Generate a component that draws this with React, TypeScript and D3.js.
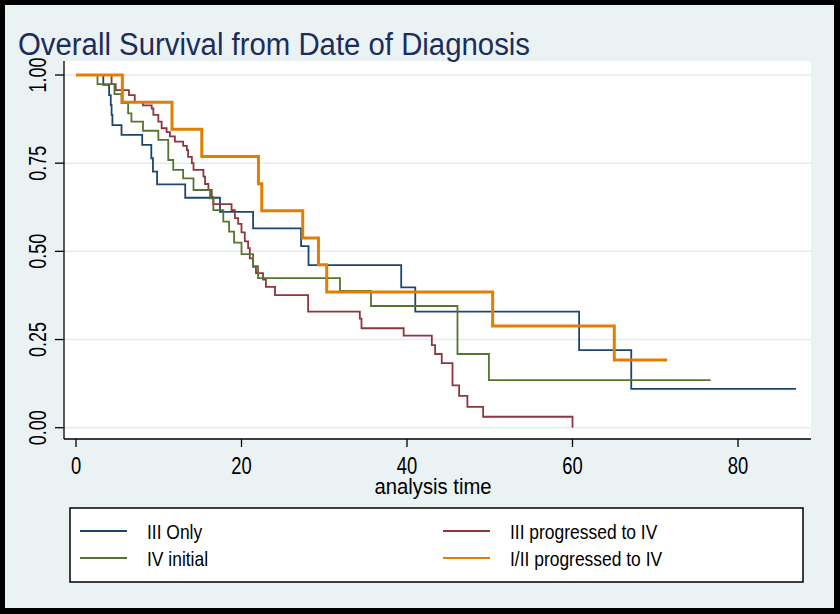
import React, { useRef, useEffect } from 'react';
import * as d3 from 'd3';

// Kaplan-Meier steps (time in months, survival)
const blueTimes = [3.3, 4.0, 4.2, 4.3, 4.4, 5.5, 8.0, 9.1, 9.3, 9.8, 13.2, 17.4, 21.4, 27.2, 28.1, 39.3, 41.0, 60.8, 67.1];
const blueSurv = [0.972, 0.943, 0.915, 0.887, 0.858, 0.83, 0.802, 0.764, 0.726, 0.69, 0.652, 0.612, 0.565, 0.515, 0.461, 0.398, 0.329, 0.22, 0.11];
const blueEnd = 87.0;

const redTimes = [4.3, 4.8, 6.4, 7.1, 8.1, 9.15, 9.35, 9.95, 10.35, 10.95, 11.35, 11.95, 12.95, 13.4, 13.55, 14.0, 14.2, 15.4, 15.6, 16.0, 16.4, 16.6, 18.8, 19.2, 19.6, 20.0, 20.4, 20.8, 21.0, 21.4, 21.75, 22.6, 22.95, 24.05, 28.05, 34.3, 34.5, 39.6, 43.0, 43.4, 44.2, 45.5, 46.3, 47.3, 49.2, 60.0];
const redSurv = [0.974, 0.957, 0.943, 0.924, 0.914, 0.905, 0.887, 0.868, 0.849, 0.838, 0.826, 0.811, 0.799, 0.787, 0.768, 0.75, 0.731, 0.712, 0.691, 0.674, 0.654, 0.634, 0.617, 0.594, 0.578, 0.554, 0.528, 0.509, 0.48, 0.456, 0.438, 0.42, 0.399, 0.376, 0.329, 0.309, 0.282, 0.261, 0.234, 0.209, 0.183, 0.12, 0.09, 0.059, 0.031, 0.0];
const redEnd = 60.0;

const greenTimes = [2.6, 4.65, 5.5, 6.3, 6.7, 8.1, 9.95, 11.15, 11.75, 12.95, 14.2, 16.2, 16.6, 17.8, 18.5, 19.1, 20.0, 21.4, 22.0, 31.9, 35.65, 46.1, 49.9];
const greenSurv = [0.974, 0.946, 0.92, 0.891, 0.868, 0.842, 0.816, 0.759, 0.731, 0.707, 0.674, 0.65, 0.617, 0.584, 0.556, 0.525, 0.492, 0.458, 0.424, 0.388, 0.345, 0.209, 0.135];
const greenEnd = 76.7;

const orangeTimes = [5.6, 11.6, 15.2, 22.05, 22.45, 27.4, 29.3, 30.3, 50.35, 65.05];
const orangeSurv = [0.923, 0.846, 0.769, 0.692, 0.615, 0.538, 0.462, 0.385, 0.288, 0.192];
const orangeEnd = 71.45;

const xTicks = [0, 20, 40, 60, 80];
const yTicks = [0, 0.25, 0.5, 0.75, 1];

const seriesNames = ['III Only', 'III progressed to IV', 'IV initial', 'I/II progressed to IV'];

const FONT = '"Liberation Sans", Arial, sans-serif';

export default function App() {
  const svgRef = useRef<SVGSVGElement>(null);

  useEffect(() => {
    document.body.style.margin = '0';
    if (!svgRef.current) return;
    const svg = d3.select(svgRef.current);
    svg.selectAll('*').remove();

    const width = 840;
    const height = 614;

    // condensed look like Stata's text
    const squeeze = (sel: any, factor: number) => {
      sel.each(function (this: SVGTextElement) {
        const w = this.getComputedTextLength();
        d3.select(this).attr('textLength', w * factor).attr('lengthAdjust', 'spacingAndGlyphs');
      });
    };

    // frame + graph region
    svg.append('rect').attr('width', width).attr('height', height).attr('fill', '#000');
    svg.append('rect').attr('x', 5).attr('y', 5).attr('width', width - 11).attr('height', height - 11).attr('fill', '#eaf2f3');

    const x = d3.scaleLinear().domain([0, 80]).range([76, 738]);
    const y = d3.scaleLinear().domain([0, 1]).range([427.7, 75]);

    const plotLeft = 64;
    const plotRight = 811;
    const plotTop = 61;
    const plotBottom = 439;

    svg.append('rect')
      .attr('x', plotLeft).attr('y', plotTop)
      .attr('width', plotRight - plotLeft).attr('height', plotBottom - plotTop)
      .attr('fill', '#fff');

    // grid
    svg.append('g')
      .selectAll('line')
      .data(yTicks)
      .enter()
      .append('line')
      .attr('x1', plotLeft).attr('x2', plotRight)
      .attr('y1', (d) => y(d)).attr('y2', (d) => y(d))
      .attr('stroke', '#e3ecef')
      .attr('stroke-width', 1.5);

    // curves
    const line = d3.line<[number, number]>()
      .x((d) => x(d[0]))
      .y((d) => y(d[1]))
      .curve(d3.curveStepAfter);

    const build = (times: number[], surv: number[], end: number): [number, number][] => {
      const pts: [number, number][] = [[0, 1]];
      times.forEach((t, i) => pts.push([t, surv[i]]));
      pts.push([end, surv[surv.length - 1]]);
      return pts;
    };

    const series = [
      { pts: build(blueTimes, blueSurv, blueEnd), color: '#1a476f', w: 1.8 },
      { pts: build(redTimes, redSurv, redEnd), color: '#90353b', w: 1.8 },
      { pts: build(greenTimes, greenSurv, greenEnd), color: '#55752f', w: 1.8 },
      { pts: build(orangeTimes, orangeSurv, orangeEnd), color: '#e37e00', w: 3 },
    ];

    svg.append('g')
      .selectAll('path')
      .data(series)
      .enter()
      .append('path')
      .attr('d', (d) => line(d.pts))
      .attr('fill', 'none')
      .attr('stroke', (d) => d.color)
      .attr('stroke-width', (d) => d.w);

    // axes
    svg.append('line')
      .attr('x1', plotLeft).attr('x2', plotLeft)
      .attr('y1', plotTop).attr('y2', plotBottom)
      .attr('stroke', '#000').attr('stroke-width', 1.3);
    svg.append('line')
      .attr('x1', plotLeft).attr('x2', plotRight)
      .attr('y1', plotBottom).attr('y2', plotBottom)
      .attr('stroke', '#000').attr('stroke-width', 1.3);

    const yAxis = svg.append('g');
    yAxis.selectAll('line')
      .data(yTicks)
      .enter()
      .append('line')
      .attr('x1', 55).attr('x2', plotLeft)
      .attr('y1', (d) => y(d)).attr('y2', (d) => y(d))
      .attr('stroke', '#000').attr('stroke-width', 1.3);
    const yLabels = yAxis.selectAll('text')
      .data(yTicks)
      .enter()
      .append('text')
      .attr('transform', (d) => `translate(46,${y(d)}) rotate(-90)`)
      .attr('text-anchor', 'middle')
      .attr('font-family', FONT)
      .attr('font-size', 23)
      .attr('fill', '#000')
      .text((d) => d3.format('.2f')(d));
    squeeze(yLabels, 0.78);

    const xAxis = svg.append('g');
    xAxis.selectAll('line')
      .data(xTicks)
      .enter()
      .append('line')
      .attr('x1', (d) => x(d)).attr('x2', (d) => x(d))
      .attr('y1', plotBottom).attr('y2', plotBottom + 8)
      .attr('stroke', '#000').attr('stroke-width', 1.3);
    const xLabels = xAxis.selectAll('text')
      .data(xTicks)
      .enter()
      .append('text')
      .attr('x', (d) => x(d))
      .attr('y', 474)
      .attr('text-anchor', 'middle')
      .attr('font-family', FONT)
      .attr('font-size', 23)
      .attr('fill', '#000')
      .text((d) => String(d));
    squeeze(xLabels, 0.8);

    svg.append('text')
      .attr('x', 433)
      .attr('y', 494)
      .attr('text-anchor', 'middle')
      .attr('font-family', FONT)
      .attr('font-size', 22)
      .attr('fill', '#000')
      .attr('textLength', 117)
      .attr('lengthAdjust', 'spacingAndGlyphs')
      .text('analysis time');

    // title
    svg.append('text')
      .attr('x', 18)
      .attr('y', 55)
      .attr('font-family', FONT)
      .attr('font-size', 31)
      .attr('fill', '#1c2d5c')
      .attr('textLength', 512)
      .attr('lengthAdjust', 'spacingAndGlyphs')
      .text('Overall Survival from Date of Diagnosis');

    // legend
    const lg = svg.append('g');
    lg.append('rect')
      .attr('x', 70).attr('y', 508)
      .attr('width', 733).attr('height', 74)
      .attr('fill', '#fff')
      .attr('stroke', '#000')
      .attr('stroke-width', 1.5);

    const entries = seriesNames.map((name, i) => ({
      name,
      color: series[i].color,
      col: i % 2,
      row: Math.floor(i / 2),
    }));
    const colX = [80, 443];
    const rowY = [531, 558];

    lg.selectAll('line')
      .data(entries)
      .enter()
      .append('line')
      .attr('x1', (d) => colX[d.col]).attr('x2', (d) => colX[d.col] + 47)
      .attr('y1', (d) => rowY[d.row]).attr('y2', (d) => rowY[d.row])
      .attr('stroke', (d) => d.color)
      .attr('stroke-width', 2);
    const lgText = lg.selectAll('text')
      .data(entries)
      .enter()
      .append('text')
      .attr('x', (d) => colX[d.col] + 67)
      .attr('y', (d) => rowY[d.row] + 8)
      .attr('font-family', FONT)
      .attr('font-size', 21)
      .attr('fill', '#000')
      .text((d) => d.name);
    squeeze(lgText, 0.83);
  }, []);

  return <svg ref={svgRef} width={840} height={614} style={{ display: 'block' }} />;
}
